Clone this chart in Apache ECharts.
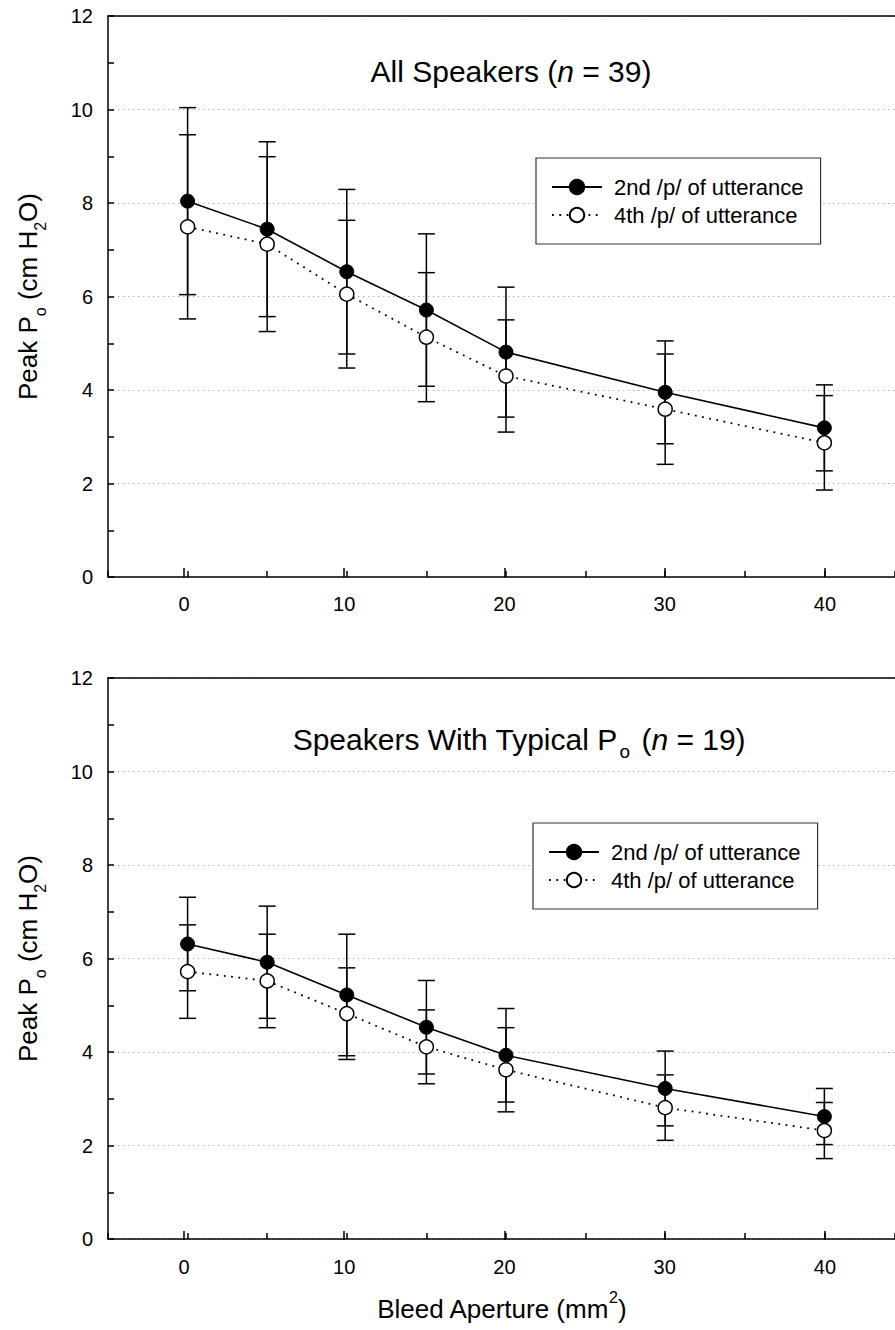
<!DOCTYPE html>
<html><head><meta charset="utf-8">
<script src="https://cdn.jsdelivr.net/npm/echarts@6/dist/echarts.min.js"></script>
<style>html,body{margin:0;padding:0;background:#fff}#c{width:895px;height:1330px}</style>
</head><body><div id="c"></div><script>
// ---- data ----
const apertures = [0, 5, 10, 15, 20, 30, 40];
const seriesNames = ['2nd /p/ of utterance', '4th /p/ of utterance'];
// All speakers (n = 39)
const allSecondMean = [8.04, 7.44, 6.53, 5.71, 4.81, 3.95, 3.19];
const allSecondSD   = [2.00, 1.87, 1.76, 1.63, 1.39, 1.10, 0.92];
const allFourthMean = [7.49, 7.12, 6.05, 5.13, 4.30, 3.59, 2.87];
const allFourthSD   = [1.97, 1.87, 1.58, 1.38, 1.20, 1.18, 1.01];
// Speakers with typical Po (n = 19)
const typSecondMean = [6.31, 5.92, 5.22, 4.53, 3.93, 3.22, 2.62];
const typSecondSD   = [1.00, 1.20, 1.30, 1.00, 1.00, 0.80, 0.60];
const typFourthMean = [5.72, 5.52, 4.82, 4.11, 3.62, 2.81, 2.32];
const typFourthSD   = [1.00, 1.00, 0.98, 0.79, 0.90, 0.70, 0.60];
const panelTitles = ['All Speakers ({i|n} = 39)', 'Speakers With Typical P{sub|o} ({i|n} = 19)'];
const yAxisName = 'Peak P{sub|o} (cm H{sub|2}O)';
const xAxisName = 'Bleed Aperture (mm{sup|2})';

// ---- chart ----
const FONT = '"Liberation Sans", Arial, Helvetica, sans-serif';
const BLACK = '#000';
const X_MIN = -5, X_MAX = 44.4375;   // visible part of the axis (cropped at the right edge)

function renderErr(params, api) {
  const x = api.value(0);
  const lo = api.coord([x, api.value(1)]);
  const hi = api.coord([x, api.value(2)]);
  const w = 8.5;
  const st = { stroke: BLACK, lineWidth: 1.5 };
  return { type: 'group', children: [
    { type: 'line', shape: { x1: lo[0], y1: lo[1], x2: hi[0], y2: hi[1] }, style: st },
    { type: 'line', shape: { x1: lo[0] - w, y1: lo[1], x2: lo[0] + w, y2: lo[1] }, style: st },
    { type: 'line', shape: { x1: hi[0] - w, y1: hi[1], x2: hi[0] + w, y2: hi[1] }, style: st }
  ]};
}

const grids = [], xAxes = [], yAxes = [], series = [], legends = [];
const panels = [
  { top: 16, height: 561, m2: allSecondMean, s2: allSecondSD, m4: allFourthMean, s4: allFourthSD, legTop: 158, legLeft: 536, xName: false },
  { top: 678, height: 562, m2: typSecondMean, s2: typSecondSD, m4: typFourthMean, s4: typFourthSD, legTop: 823, legLeft: 533, xName: true }
];

panels.forEach((p, i) => {
  const gMain = grids.length;
  grids.push({ left: 104, right: 0, top: p.top, height: p.height, containLabel: false });
  const gOv = grids.length;
  grids.push({ left: 184, right: 0, top: p.top, height: p.height, containLabel: false });

  const xMain = xAxes.length;
  xAxes.push({
    type: 'value', gridIndex: gMain, position: 'bottom', min: X_MIN, max: X_MAX, interval: 5,
    axisLine: { show: true, onZero: false, lineStyle: { color: BLACK, width: 1.5 } },
    axisTick: { show: true, inside: true, length: 6, lineStyle: { color: BLACK, width: 1.5 } },
    axisLabel: { show: false }, splitLine: { show: false },
    name: p.xName ? xAxisName : '', nameLocation: 'middle', nameGap: 50,
    nameTextStyle: { fontSize: 26, fontFamily: FONT, color: BLACK, lineHeight: 40,
      rich: { sup: { fontSize: 16, fontFamily: FONT, color: BLACK, lineHeight: 14, verticalAlign: 'top' } } }
  });
  xAxes.push({
    type: 'value', gridIndex: gMain, position: 'top', min: X_MIN, max: X_MAX, interval: 5,
    axisLine: { show: true, onZero: false, lineStyle: { color: BLACK, width: 1.5 } },
    axisTick: { show: false }, axisLabel: { show: false }, splitLine: { show: false }
  });
  xAxes.push({
    type: 'value', gridIndex: gOv, position: 'bottom', min: 0, max: X_MAX - 0.0625, interval: 10,
    axisLine: { show: false, onZero: false },
    axisTick: { show: true, inside: true, length: 9, lineStyle: { color: BLACK, width: 1.5 } },
    axisLabel: { show: true, fontSize: 20, fontFamily: FONT, color: BLACK, margin: 17, showMaxLabel: false },
    splitLine: { show: false }
  });

  const yMain = yAxes.length;
  yAxes.push({
    type: 'value', gridIndex: gMain, min: 0, max: 12, interval: 2,
    axisLine: { show: true, onZero: false, lineStyle: { color: BLACK, width: 1.5 } },
    axisTick: { show: true, inside: true, length: 6, lineStyle: { color: BLACK, width: 1.5 } },
    minorTick: { show: true, splitNumber: 2, length: 6, lineStyle: { color: BLACK, width: 1.5 } },
    axisLabel: { fontSize: 20, fontFamily: FONT, color: BLACK, margin: 15 },
    splitLine: { show: true, lineStyle: { color: '#b4b4b4', width: 1, type: [1.5, 3.5] } },
    name: yAxisName, nameLocation: 'middle', nameGap: 60,
    nameTextStyle: { fontSize: 26, fontFamily: FONT, color: BLACK, lineHeight: 40,
      rich: { sub: { fontSize: 16, fontFamily: FONT, color: BLACK, lineHeight: 14, verticalAlign: 'bottom' } } }
  });
  yAxes.push({ type: 'value', gridIndex: gOv, min: 0, max: 12, show: false, axisLine: { onZero: false } });

  const errData = (m, s) => apertures.map((x, k) => [x, m[k] - s[k], m[k] + s[k]]);
  series.push({ type: 'custom', name: 'err2_' + i, xAxisIndex: xMain, yAxisIndex: yMain, z: 1,
    renderItem: renderErr, data: errData(p.m2, p.s2), encode: { x: 0, y: [1, 2] }, silent: true });
  series.push({ type: 'custom', name: 'err4_' + i, xAxisIndex: xMain, yAxisIndex: yMain, z: 1,
    renderItem: renderErr, data: errData(p.m4, p.s4), encode: { x: 0, y: [1, 2] }, silent: true });
  series.push({ type: 'line', name: seriesNames[0], xAxisIndex: xMain, yAxisIndex: yMain, z: 3,
    data: apertures.map((x, k) => [x, p.m2[k]]), symbol: 'circle', symbolSize: 14,
    lineStyle: { color: BLACK, width: 1.6, type: 'solid' },
    itemStyle: { color: BLACK, borderColor: BLACK, borderWidth: 1 } });
  series.push({ type: 'line', name: seriesNames[1], xAxisIndex: xMain, yAxisIndex: yMain, z: 2,
    data: apertures.map((x, k) => [x, p.m4[k]]), symbol: 'circle', symbolSize: 14,
    lineStyle: { color: BLACK, width: 1.8, type: [1.8, 5.5] },
    itemStyle: { color: '#fff', borderColor: BLACK, borderWidth: 1.5 } });

  legends.push({
    data: seriesNames, orient: 'vertical', left: p.legLeft, top: p.legTop,
    itemWidth: 50, itemHeight: 18, itemGap: 6, padding: [18, 17, 18, 15],
    borderColor: '#333', borderWidth: 1.2, backgroundColor: '#fff', selectedMode: false,
    textStyle: { fontSize: 22, fontFamily: FONT, color: BLACK, padding: [0, 0, 0, 7] }
  });
});

const titleText = (txt, x, y) => ({
  type: 'text', x: x, y: y, z: 10,
  style: {
    text: txt, fill: BLACK, fontSize: 30, fontFamily: FONT, lineHeight: 44,
    align: 'center', verticalAlign: 'middle',
    rich: {
      i: { fontSize: 30, fontFamily: FONT, fontStyle: 'italic', fill: BLACK },
      sub: { fontSize: 19, fontFamily: FONT, fill: BLACK, lineHeight: 16, verticalAlign: 'bottom', padding: [0, 3, 0, 2] }
    }
  }
});

const chart = echarts.init(document.getElementById('c'), null, { renderer: 'svg' });
chart.setOption({
  animation: false,
  backgroundColor: '#fff',
  grid: grids, xAxis: xAxes, yAxis: yAxes, series: series, legend: legends,
  graphic: [ titleText(panelTitles[0], 511, 71), titleText(panelTitles[1], 519, 739) ]
});
</script></body></html>
